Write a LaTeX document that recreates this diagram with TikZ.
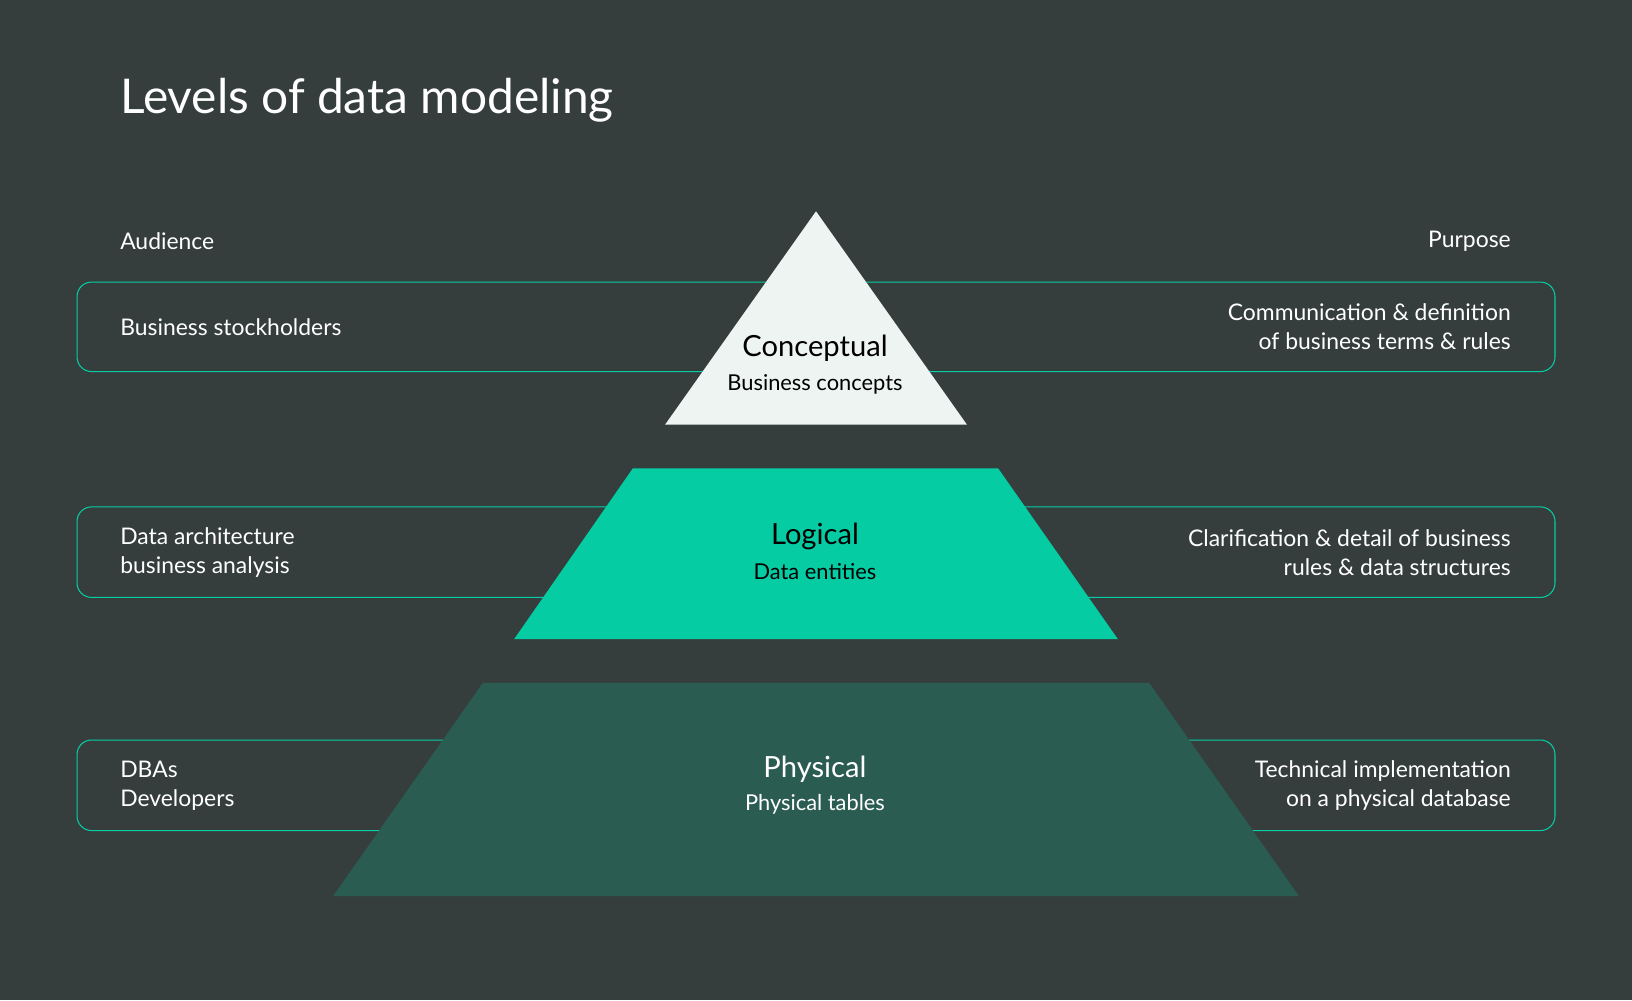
\documentclass[tikz,border=0pt]{standalone}
\usepackage{fontspec}
\setmainfont{Lato}
\definecolor{bg}{HTML}{353E3D}
\definecolor{ln}{HTML}{06CDA5}
\definecolor{cf}{HTML}{EDF4F1}
\definecolor{lf}{HTML}{06CCA4}
\definecolor{pf}{HTML}{2B5C52}
\begin{document}
\begin{tikzpicture}[x=1pt,y=-1pt,
  band/.style={draw=ln,line width=1pt,rounded corners=14pt},
  lt/.style={text=white,font=\fontsize{22}{28}\selectfont,align=left,anchor=west},
  rt/.style={text=white,font=\fontsize{22}{28}\selectfont,align=right,anchor=east},
  ttl/.style={font=\fontsize{28}{30}\selectfont},
  sub/.style={font=\fontsize{21}{26}\selectfont}]
\fill[bg] (0,0) rectangle (1568,961);
\useasboundingbox (0,0) rectangle (1568,961);
\node[anchor=west,text=white,font=\fontsize{46}{50}\selectfont] (title) at (112,96) {Levels of data modeling};
\node[lt] (aud) at (112,232) {Audience};
\node[rt] (pur) at (1455,232) {Purpose};
\draw[band] (74,271) rectangle (1494,357);
\draw[band] (74,487) rectangle (1494,574);
\draw[band] (74,711) rectangle (1494,798);
\fill[cf] (784,203) -- (929,408) -- (639,408) -- cycle;
\fill[lf] (608,450) -- (959,450) -- (1074,614) -- (494,614) -- cycle;
\fill[pf] (464,656) -- (1104,656) -- (1248,861) -- (320,861) -- cycle;
\node[lt] (a1) at (112,314) {Business stockholders};
\node[lt] (a2) at (112,531) {Data architecture\\business analysis};
\node[lt] (a3) at (112,755) {DBAs\\Developers};
\node[rt] (p1) at (1455,314) {Communication \& definition\\of business terms \& rules};
\node[rt] (p2) at (1455,531) {Clarification \& detail of business\\rules \& data structures};
\node[rt] (p3) at (1455,755) {Technical implementation\\on a physical database};
\node[ttl,text=black] (c) at (783,335) {Conceptual};
\node[sub,text=black] (cs) at (783,369) {Business concepts};
\node[ttl,text=black] (l) at (783,515) {Logical};
\node[sub,text=black] (ls) at (783,549) {Data entities};
\node[ttl,text=white] (ph) at (783,739) {Physical};
\node[sub,text=white] (phs) at (783,773) {Physical tables};
\end{tikzpicture}
\end{document}
